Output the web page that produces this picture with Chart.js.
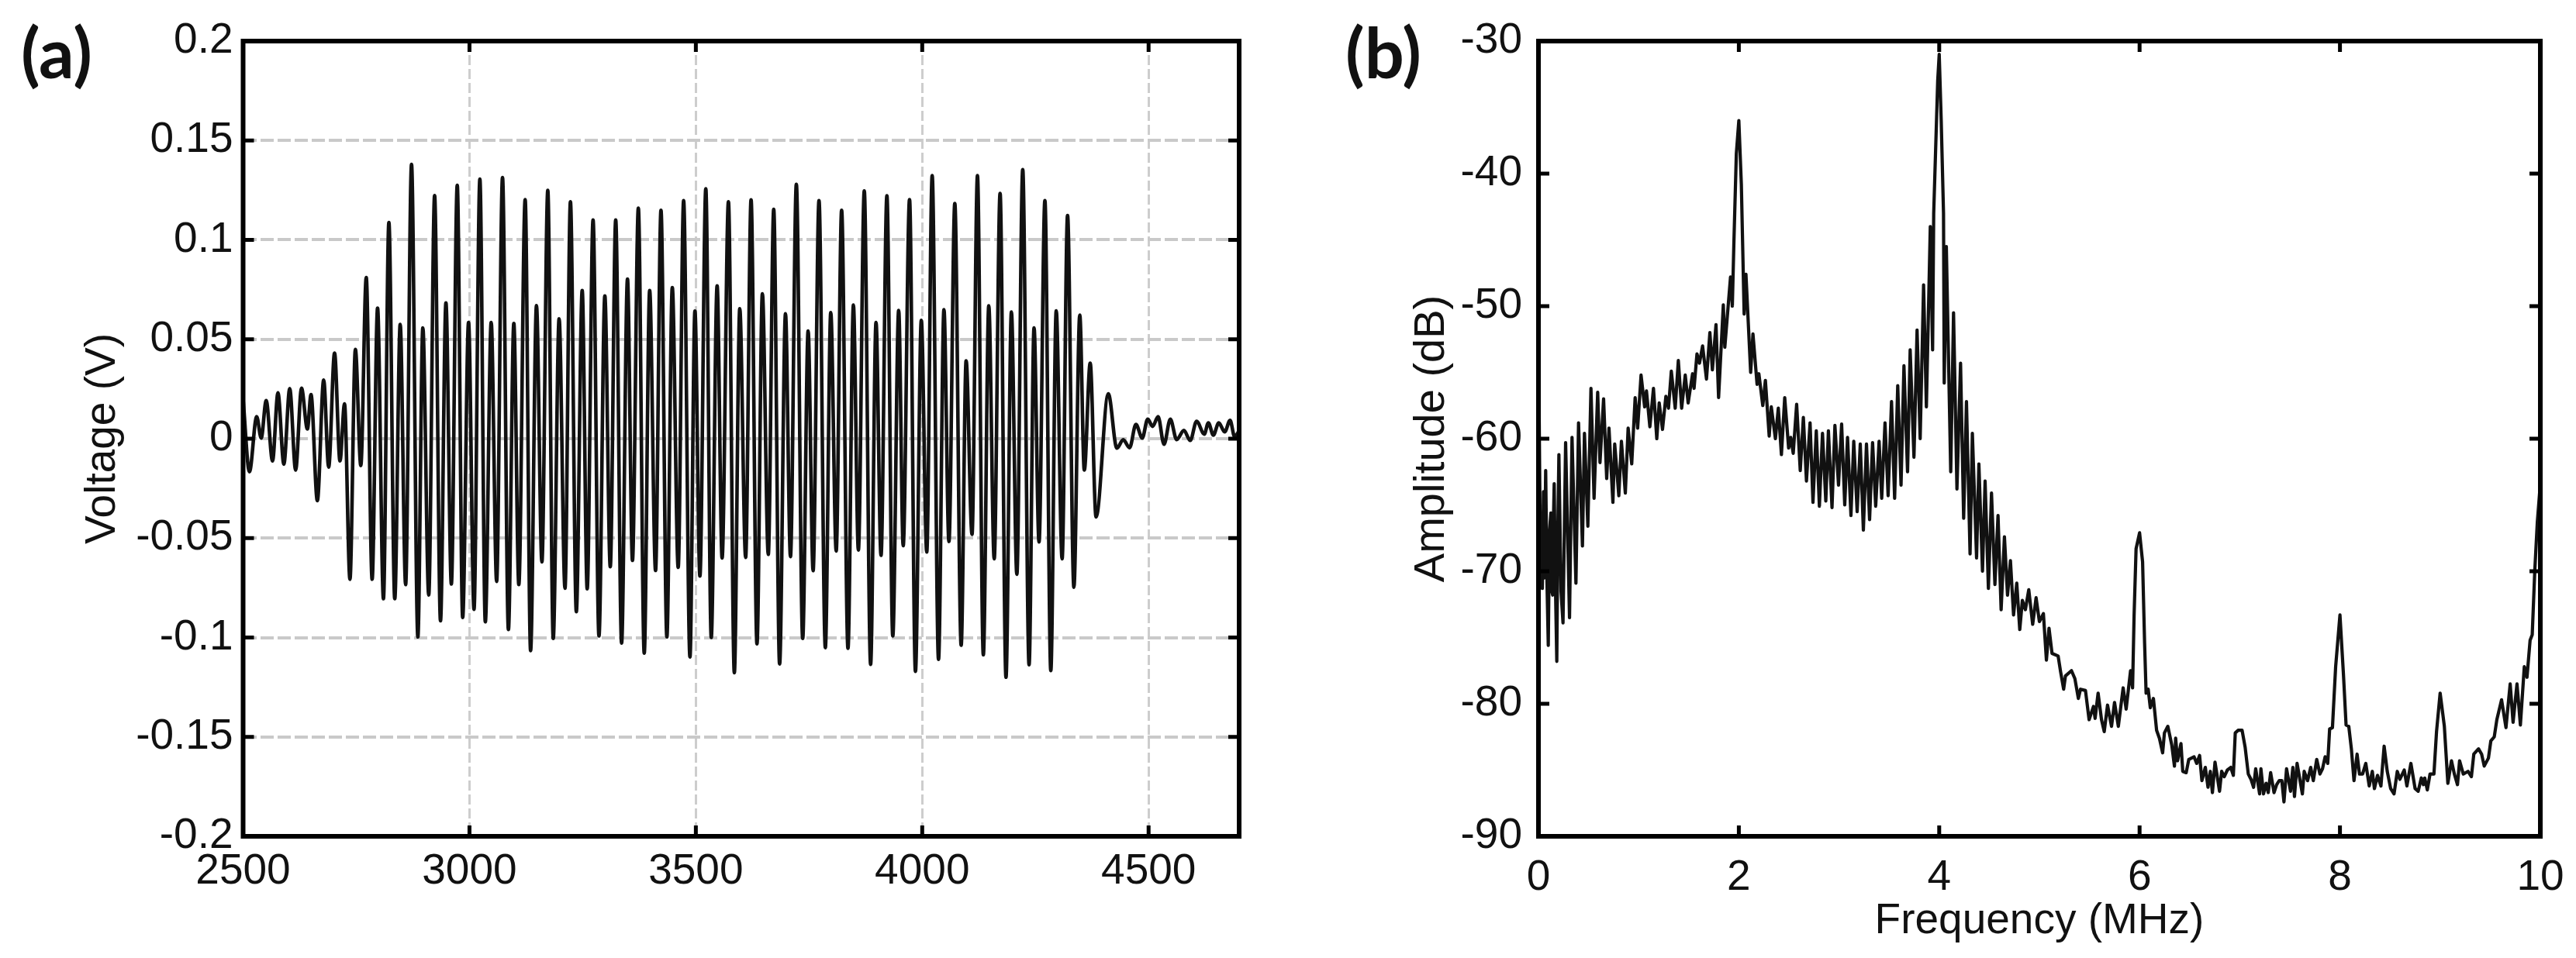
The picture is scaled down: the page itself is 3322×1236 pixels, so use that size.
<!DOCTYPE html>
<html>
<head>
<meta charset="utf-8">
<title>Voltage and amplitude</title>
<script src="https://cdn.jsdelivr.net/npm/chart.js@4/dist/chart.umd.min.js"></script>
<style>
  html, body { margin: 0; padding: 0; background: #fff; }
  body { position: relative; width: 3322px; height: 1236px; overflow: hidden; }
  canvas { position: absolute; top: 0; filter: blur(0.6px); }
  #chartA { left: 0; }
  #chartB { left: 1660px; }
  .panel-tag { position: absolute; top: 18px; font: bold 90px Lato, sans-serif; color: #111; line-height: 96px; }
</style>
</head>
<body>
<canvas id="chartA" width="1660" height="1236"></canvas>
<canvas id="chartB" width="1662" height="1236"></canvas>
<div class="panel-tag" style="left: 27px">(a)</div>
<div class="panel-tag" style="left: 1735px">(b)</div>

<script>
// --- axis ticks ---
const xTicksA = [2500, 3000, 3500, 4000, 4500];
const yTicksA = [-0.2, -0.15, -0.1, -0.05, 0, 0.05, 0.1, 0.15, 0.2];
const yLabelsA = ['-0.2', '-0.15', '-0.1', '-0.05', '0', '0.05', '0.1', '0.15', '0.2'];
const xTicksB = [0, 2, 4, 6, 8, 10];
const yTicksB = [-90, -80, -70, -60, -50, -40, -30];

const timeA = [
  2500, 2514, 2530, 2540, 2551, 2565, 2577, 2590, 2603, 2616, 2629, 2642, 2650, 2664, 2678, 2689,
  2702, 2714, 2724, 2736, 2748, 2760, 2772, 2785, 2797, 2810, 2822, 2835, 2847, 2859, 2872, 2886,
  2897, 2910, 2923, 2936, 2948, 2960, 2973, 2985, 2998, 3010, 3023, 3035, 3048, 3060, 3073, 3086,
  3098, 3109, 3123, 3135, 3148, 3160, 3173, 3185, 3198, 3211, 3223, 3236, 3249, 3260, 3273, 3286,
  3299, 3311, 3323, 3336, 3349, 3360, 3373, 3386, 3398, 3411, 3423, 3436, 3448, 3461, 3473, 3487,
  3498, 3509, 3522, 3534, 3547, 3558, 3572, 3585, 3597, 3610, 3622, 3635, 3647, 3660, 3672, 3685,
  3698, 3709, 3722, 3736, 3748, 3759, 3772, 3786, 3798, 3810, 3822, 3836, 3848, 3859, 3872, 3886,
  3898, 3909, 3922, 3935, 3948, 3958, 3972, 3985, 3998, 4010, 4022, 4036, 4048, 4059, 4072, 4086,
  4097, 4110, 4122, 4135, 4147, 4159, 4172, 4185, 4197, 4209, 4222, 4236, 4247, 4258, 4271, 4284,
  4296, 4309, 4321, 4335, 4348, 4358, 4371, 4384, 4411, 4430, 4444, 4458, 4472, 4486, 4498, 4509,
  4521, 4534, 4548, 4562, 4578, 4592, 4606, 4623, 4632, 4643, 4655, 4668, 4680, 4690, 4700
];
const voltA = [
  0.02, -0.0166, 0.0111, 0.0003, 0.0192, -0.0112, 0.0231, -0.0128, 0.0252, -0.0158, 0.0254, 0.0049, 0.0222, -0.0312, 0.0295, -0.0143,
  0.0431, -0.0112, 0.0175, -0.0707, 0.0449, -0.0135, 0.0811, -0.0707, 0.0657, -0.0805, 0.1088, -0.0805, 0.0575, -0.0734, 0.138, -0.0997,
  0.0557, -0.0786, 0.1223, -0.0916, 0.0683, -0.0731, 0.1275, -0.0899, 0.0585, -0.0858, 0.1306, -0.0921, 0.0585, -0.0718, 0.1314, -0.096,
  0.058, -0.0734, 0.1203, -0.1066, 0.0669, -0.062, 0.1249, -0.1005, 0.0603, -0.0752, 0.1192, -0.087, 0.0745, -0.0755, 0.11, -0.0992,
  0.0718, -0.0644, 0.11, -0.1028, 0.0803, -0.0612, 0.116, -0.1079, 0.0745, -0.0663, 0.1149, -0.0997, 0.076, -0.0647, 0.1198, -0.1098,
  0.0642, -0.0691, 0.1257, -0.1, 0.0769, -0.06, 0.1192, -0.1177, 0.0654, -0.0597, 0.1202, -0.1032, 0.0729, -0.0582, 0.1154, -0.1133,
  0.0628, -0.0593, 0.128, -0.1005, 0.0542, -0.0664, 0.1198, -0.1051, 0.0634, -0.0565, 0.1149, -0.1054, 0.0672, -0.056, 0.1246, -0.1135,
  0.0585, -0.0587, 0.1222, -0.0992, 0.0645, -0.0538, 0.1203, -0.117, 0.0595, -0.057, 0.1323, -0.111, 0.0649, -0.0517, 0.1183, -0.1039,
  0.0392, -0.0481, 0.1323, -0.1087, 0.0668, -0.0604, 0.1234, -0.12, 0.0637, -0.0682, 0.1354, -0.1137, 0.0557, -0.0519, 0.1198, -0.1166,
  0.0643, -0.0604, 0.1123, -0.0747, 0.0622, -0.0158, 0.038, -0.0394, 0.0226, -0.0048, -0.0005, -0.0046, 0.0072, 0.0003, 0.0098, 0.0062,
  0.0111, -0.0028, 0.0098, -0.0005, 0.0042, -0.0009, 0.0088, 0.0023, 0.008, 0.0018, 0.008, 0.0034, 0.0092, 0.001, 0.004
];

// --- panel (b) spectrum, teeth read as top/bottom pairs ---
const freqB = [
  0, 0.02, 0.039, 0.05, 0.06, 0.072, 0.085, 0.098, 0.11, 0.124, 0.133, 0.142, 0.15, 0.157, 0.17, 0.183,
  0.194, 0.204, 0.225, 0.245, 0.271, 0.31, 0.335, 0.374, 0.4,
  0.439, 0.459, 0.493, 0.524, 0.555, 0.591, 0.614, 0.65, 0.681, 0.704, 0.743, 0.761, 0.802, 0.828, 0.867, 0.895,
  0.931, 0.965, 0.99, 1.024, 1.06, 1.078, 1.112, 1.148, 1.181, 1.205, 1.238, 1.272, 1.298, 1.326, 1.365, 1.396,
  1.429, 1.465, 1.494, 1.538, 1.553, 1.582, 1.607, 1.638, 1.677, 1.711, 1.736, 1.772, 1.798, 1.845, 1.86, 1.917,
  1.935, 1.95, 1.975, 2.0, 2.025, 2.053, 2.071, 2.118, 2.141, 2.182, 2.2, 2.239, 2.265, 2.303, 2.324, 2.365,
  2.394, 2.425, 2.458, 2.497, 2.518, 2.543, 2.577, 2.613, 2.644, 2.675, 2.711, 2.74, 2.773, 2.804, 2.835, 2.868,
  2.894, 2.93, 2.959, 2.995, 3.026, 3.057, 3.085, 3.119, 3.147, 3.181, 3.212, 3.243, 3.274, 3.305, 3.335, 3.366,
  3.4, 3.426, 3.459, 3.49, 3.524, 3.555, 3.586, 3.619, 3.648, 3.684, 3.71, 3.748, 3.779, 3.81, 3.844, 3.872,
  3.911, 3.934, 3.945, 3.985, 4.0, 4.02, 4.043, 4.05, 4.071, 4.115, 4.143, 4.177, 4.213, 4.244, 4.272, 4.308,
  4.331, 4.373, 4.396, 4.432, 4.458, 4.491, 4.522, 4.556, 4.587, 4.618, 4.651, 4.682, 4.711, 4.742, 4.774, 4.804,
  4.83, 4.86, 4.894, 4.933, 4.967, 5.0, 5.04, 5.07, 5.096, 5.126, 5.187, 5.212, 5.242, 5.26, 5.32, 5.354,
  5.389, 5.41, 5.46, 5.496, 5.54, 5.556, 5.586, 5.62, 5.647, 5.68, 5.72, 5.75, 5.788, 5.836, 5.866, 5.91,
  5.93, 5.945, 5.965, 6.0, 6.03, 6.05, 6.065, 6.086, 6.107, 6.138, 6.17, 6.198, 6.23, 6.248, 6.282, 6.321,
  6.348, 6.36, 6.379, 6.413, 6.431, 6.465, 6.491, 6.544, 6.57, 6.599, 6.622, 6.656, 6.683, 6.706, 6.727, 6.753,
  6.798, 6.819, 6.845, 6.876, 6.91, 6.936, 6.955, 6.983, 7.023, 7.054, 7.085, 7.112, 7.138, 7.159, 7.198, 7.211,
  7.237, 7.263, 7.284, 7.308, 7.342, 7.368, 7.394, 7.42, 7.441, 7.467, 7.507, 7.53, 7.546, 7.572, 7.625, 7.643,
  7.677, 7.708, 7.734, 7.768, 7.8, 7.826, 7.852, 7.878, 7.897, 7.925, 7.957, 8.0, 8.035, 8.061, 8.088, 8.114,
  8.14, 8.171, 8.195, 8.226, 8.258, 8.292, 8.323, 8.344, 8.375, 8.409, 8.441, 8.472, 8.506, 8.54, 8.572, 8.598,
  8.642, 8.668, 8.708, 8.75, 8.781, 8.812, 8.833, 8.846, 8.872, 8.899, 8.938, 8.964, 9.0, 9.042, 9.077, 9.113,
  9.142, 9.173, 9.194, 9.231, 9.278, 9.312, 9.336, 9.383, 9.414, 9.44, 9.482, 9.506, 9.54, 9.566, 9.613, 9.657,
  9.699, 9.728, 9.767, 9.801, 9.84, 9.867, 9.898, 9.919, 9.945, 9.97, 10
];
const ampB = [
  -52, -69.8, -71.3, -64, -70.5, -62.4, -70.8, -75.6, -67, -65.6, -71.5, -71.8, -66, -63.4, -71.3, -76.8,
  -66.5, -61.2, -71.5, -73.9, -60.3, -73.5, -59.9, -70.9, -58.8,
  -68.1, -59.6, -66.6, -56.2, -64.5, -56.5, -61.8, -57, -63, -59.2, -64.8, -60.4, -64.3, -60.2, -64.1, -59.2,
  -61.9, -56.9, -59.2, -55.2, -57.6, -56.4, -59.1, -56.2, -60, -57.3, -59.3, -56.8, -57.7, -54.9, -57.7, -54.1,
  -57.7, -55.2, -57.3, -55.1, -56.2, -53.6, -54.3, -53, -55.5, -52, -54.8, -51.4, -56.9, -49.9, -53.1, -47.8,
  -50, -45.4, -38.5, -36, -40.8, -50.6, -47.6, -55, -52.1, -55.9, -55.1, -57.5, -55.6, -59.8, -57.6, -60,
  -57.7, -61.2, -56.9, -60.7, -59.9, -61.1, -57.4, -62.4, -58.4, -63.2, -58.8, -64.8, -59.4, -65.1, -59.6, -64.7,
  -59.4, -65.2, -59, -63.5, -58.9, -65, -59.9, -65.8, -60.2, -65.5, -60.4, -66.9, -60.4, -66.1, -60.3, -65.1,
  -60.2, -64.5, -58.8, -64.3, -57.2, -64.5, -56, -63.5, -54.5, -62.5, -53.3, -61.4, -51.8, -60, -48.4, -57.6,
  -44, -53.3, -43, -33, -31, -36, -43, -55.8, -45.5, -62.5, -50.5, -63.8, -54.3, -66, -57.2, -68.7,
  -59.6, -69, -61.9, -70, -63.2, -71.3, -64.1, -71, -65.8, -72.9, -67.4, -71.8, -69.2, -73.3, -70.9, -74.4,
  -72.2, -72.9, -71.4, -74, -72, -73.8, -73.2, -76.7, -74.3, -76.2, -76.4, -77.6, -78.9, -77.9, -77.5, -78.1,
  -79.6, -78.9, -79, -81.2, -80.2, -81.1, -79.2, -81.2, -82.1, -80.1, -81.7, -79.9, -81.7, -78.8, -80.4, -77.5,
  -78.8, -73.4, -68.3, -67.1, -69.3, -75.4, -79.2, -78.9, -80.3, -79.6, -82, -82.6, -83.7, -82.2, -81.7, -83.1,
  -84.7, -82.6, -84.3, -83, -85.1, -85.2, -84.2, -84, -84.5, -83.9, -85.8, -84.8, -86.3, -85.1, -86.7, -84.4,
  -86.6, -85.1, -85.5, -85, -84.8, -85.4, -82.2, -82, -82, -83.3, -85.3, -85.7, -86.3, -84.9, -86.8, -84.9,
  -86.8, -86, -86.7, -85.2, -86.7, -86.1, -85.8, -85.8, -87.4, -84.9, -86.6, -84.8, -87, -84.5, -86.8, -85.1,
  -85.8, -84.8, -85.8, -84.2, -85.3, -84.9, -84, -84.5, -81.9, -81.8, -77.2, -73.3, -77.8, -81.6, -81.7, -83.4,
  -85.8, -83.8, -85.3, -85.3, -84.5, -86.2, -85.1, -86.4, -85.4, -86.2, -83.2, -85.1, -86.4, -86.8, -85.1, -85.7,
  -85, -86.2, -84.5, -86.4, -86.6, -85.6, -86.1, -85.6, -86.5, -85.3, -85.3, -82.1, -79.2, -81.7, -86, -84.3,
  -85.3, -86.1, -84.3, -85.3, -85.1, -85.5, -83.8, -83.4, -83.8, -84.7, -84.1, -82.8, -82.5, -81.2, -79.7, -81.8,
  -78.5, -81.4, -78.5, -81.6, -77.2, -78, -75.2, -74.8, -69.9, -66.3, -63.4
];

const inkColor = '#111';
const fontFamily = '"Liberation Sans", Arial, sans-serif';

// frame and inward ticks on all four sides, like the old matlab axes
const frameTicks = {
  id: 'frameTicks',
  afterDatasetsDraw(chart) {
    const { ctx, chartArea: a, scales } = chart;
    ctx.save();
    ctx.strokeStyle = '#000';
    ctx.lineWidth = 5;
    scales.x.ticks.forEach(t => {
      const px = scales.x.getPixelForValue(t.value);
      if (px < a.left + 3 || px > a.right - 3) return;
      ctx.beginPath();
      ctx.moveTo(px, a.top); ctx.lineTo(px, a.top + 14);
      ctx.moveTo(px, a.bottom); ctx.lineTo(px, a.bottom - 14);
      ctx.stroke();
    });
    scales.y.ticks.forEach(t => {
      const py = scales.y.getPixelForValue(t.value);
      if (py < a.top + 3 || py > a.bottom - 3) return;
      ctx.beginPath();
      ctx.moveTo(a.left, py); ctx.lineTo(a.left + 14, py);
      ctx.moveTo(a.right, py); ctx.lineTo(a.right - 14, py);
      ctx.stroke();
    });
    ctx.lineWidth = 6;
    ctx.strokeRect(a.left, a.top, a.right - a.left, a.bottom - a.top);
    ctx.restore();
  }
};

function makeChart(id, cfg) {
  const points = cfg.xs.map((x, i) => ({ x: x, y: cfg.ys[i] }));
  const W = document.getElementById(id).width;
  return new Chart(document.getElementById(id), {
    type: 'line',
    data: {
      datasets: [{
        data: points,
        borderColor: inkColor,
        borderWidth: cfg.lineWidth,
        pointRadius: 0,
        cubicInterpolationMode: cfg.smooth ? 'monotone' : 'default',
        tension: 0,
        borderJoinStyle: 'round'
      }]
    },
    options: {
      responsive: false,
      animation: false,
      layout: { padding: { top: 53, right: W - cfg.plotRight, left: 0, bottom: 0 } },
      plugins: { legend: { display: false }, tooltip: { enabled: false } },
      scales: {
        x: {
          type: 'linear',
          min: cfg.xMin,
          max: cfg.xMax,
          afterBuildTicks: s => { s.ticks = cfg.xTicks.map(v => ({ value: v })); },
          afterFit: s => { s.height = 1236 - 1079; },
          grid: cfg.grid
            ? { color: '#cdcdcd', lineWidth: 3, drawTicks: false }
            : { display: false },
          border: { display: false, dash: [13, 5] },
          ticks: {
            autoSkip: false, maxRotation: 0, padding: 13, color: inkColor,
            font: { family: fontFamily, size: 55 },
            callback: v => String(v)
          },
          title: cfg.xTitle
            ? { display: true, text: cfg.xTitle, color: inkColor, font: { family: fontFamily, size: 55 }, padding: { top: 0, bottom: 14 } }
            : { display: false }
        },
        y: {
          type: 'linear',
          min: cfg.yMin,
          max: cfg.yMax,
          afterBuildTicks: s => { s.ticks = cfg.yTicks.map(v => ({ value: v })); },
          afterFit: s => { s.width = cfg.plotLeft; },
          grid: cfg.grid
            ? { color: '#c9c9c9', lineWidth: 4, drawTicks: false }
            : { display: false },
          border: { display: false, dash: [17, 5] },
          ticks: {
            autoSkip: false, padding: 13, color: inkColor,
            font: { family: fontFamily, size: 55 },
            callback: cfg.yLabels ? (v, i) => cfg.yLabels[i] : v => String(v)
          },
          title: {
            display: true, text: cfg.yTitle, color: inkColor,
            font: { family: fontFamily, size: cfg.yTitleSize },
            padding: { top: cfg.yTitlePad, bottom: 0 }
          }
        }
      }
    },
    plugins: [frameTicks]
  });
}

makeChart('chartA', {
  xs: timeA, ys: voltA, lineWidth: 4.6, smooth: true, grid: true,
  xMin: 2500, xMax: 4700, yMin: -0.2, yMax: 0.2,
  xTicks: xTicksA, yTicks: yTicksA, yLabels: yLabelsA,
  yTitle: 'Voltage (V)', yTitleSize: 55, yTitlePad: 100,
  plotLeft: 313.5, plotRight: 1598
});

makeChart('chartB', {
  xs: freqB, ys: ampB, lineWidth: 4.2, smooth: false, grid: false,
  xMin: 0, xMax: 10, yMin: -90, yMax: -30,
  xTicks: xTicksB, yTicks: yTicksB,
  xTitle: 'Frequency (MHz)',
  yTitle: 'Amplitude (dB)', yTitleSize: 56, yTitlePad: 153,
  plotLeft: 324, plotRight: 1616
});
</script>
</body>
</html>
